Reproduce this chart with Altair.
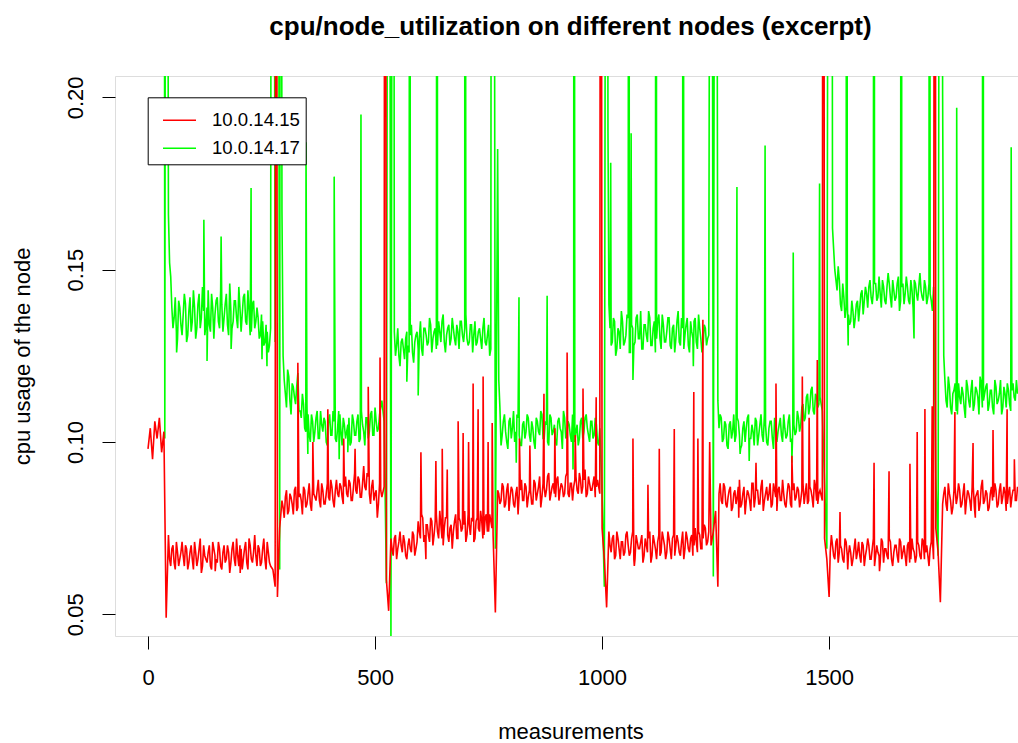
import altair as alt
import pandas as pd

RED_NAME = "10.0.14.15"
GREEN_NAME = "10.0.14.17"

# measurement index of the regular samples (every 5th measurement)
x_base = list(range(0, 1920, 5))

# ---- node 10.0.14.15 (red), segment by segment ----
red_s1 = [0.098, 0.104, 0.095, 0.106, 0.101, 0.107, 0.097, 0.103, 0.049]  # 0-40
red_s2 = [0.073, 0.064, 0.070, 0.063, 0.068, 0.066, 0.071, 0.064, 0.069, 0.065,
          0.070, 0.063, 0.068, 0.066, 0.072, 0.064, 0.067, 0.065, 0.070, 0.063,
          0.069, 0.066, 0.071, 0.064, 0.068, 0.065, 0.070, 0.062, 0.069, 0.066,
          0.072, 0.064, 0.069, 0.066, 0.071, 0.063, 0.070, 0.065, 0.073, 0.064,
          0.069, 0.065, 0.072, 0.063, 0.068, 0.064]  # 45-270
red_s3 = [0.063, 0.058, 0.055, 0.075]  # 275-290
red_s4 = [0.083, 0.078, 0.086, 0.080, 0.084, 0.079, 0.087, 0.081, 0.085, 0.079,
          0.086, 0.082, 0.088, 0.080, 0.085, 0.083, 0.089, 0.081, 0.086, 0.082,
          0.088, 0.083, 0.087, 0.081, 0.089, 0.084, 0.087, 0.082, 0.090, 0.084,
          0.088, 0.083, 0.091, 0.085, 0.089, 0.084, 0.093, 0.086, 0.090, 0.082,
          0.089, 0.085, 0.078, 0.088, 0.084]  # 295-515
red_s5 = [0.087, 0.060, 0.051]  # 520-530
red_s6 = [0.072, 0.067, 0.073, 0.069, 0.074, 0.068, 0.071, 0.066, 0.072, 0.068,
          0.073, 0.069]  # 535-590
red_s7 = [0.077, 0.072, 0.078, 0.073, 0.076, 0.071, 0.077, 0.073, 0.079, 0.072,
          0.076, 0.070, 0.078, 0.073, 0.075, 0.069, 0.077, 0.072, 0.078, 0.074,
          0.076, 0.071, 0.079, 0.073, 0.077, 0.072, 0.078, 0.074, 0.077, 0.073,
          0.079, 0.074, 0.077, 0.073]  # 595-760
red_s8 = [0.0505, 0.086]  # 765-770
red_s9 = [0.082, 0.088, 0.081, 0.086, 0.080, 0.087, 0.082, 0.085, 0.079, 0.086,
          0.083, 0.088, 0.081, 0.086, 0.082, 0.089, 0.083, 0.087, 0.081, 0.088,
          0.084, 0.090, 0.083, 0.087, 0.085, 0.089, 0.083, 0.088, 0.084, 0.090,
          0.085, 0.088, 0.083, 0.089, 0.086, 0.091, 0.085, 0.089, 0.084, 0.090,
          0.086, 0.088, 0.084, 0.089]  # 775-990
red_s10 = [0.085, 0.075, 0.066, 0.052]  # 995-1010
red_s11 = [0.074, 0.068, 0.073, 0.067, 0.072, 0.066, 0.071, 0.068, 0.074, 0.067,
           0.072, 0.066, 0.073, 0.069, 0.071, 0.065, 0.072, 0.068, 0.074, 0.067,
           0.071, 0.066, 0.073, 0.068, 0.072, 0.066, 0.074, 0.069, 0.072, 0.067,
           0.073, 0.068, 0.071, 0.066, 0.074, 0.069, 0.072, 0.067, 0.075, 0.068,
           0.073, 0.069, 0.076, 0.070, 0.074]  # 1015-1235
red_s12 = [0.070, 0.074, 0.080, 0.058]  # 1240-1255
red_s13 = [0.088, 0.082, 0.087, 0.081, 0.086, 0.080, 0.085, 0.082, 0.087, 0.081,
           0.085, 0.079, 0.086, 0.083, 0.088, 0.081, 0.086, 0.082, 0.087, 0.080,
           0.085, 0.083, 0.088, 0.082, 0.086, 0.080, 0.087, 0.083, 0.085, 0.081,
           0.088, 0.082, 0.086, 0.083, 0.087, 0.081, 0.086, 0.082, 0.088, 0.083,
           0.086, 0.081, 0.087, 0.082, 0.086]  # 1260-1480
red_s14 = [0.083, 0.072, 0.066, 0.055]  # 1485-1500
red_s15 = [0.073, 0.067, 0.071, 0.065, 0.070, 0.066, 0.072, 0.067, 0.070, 0.064,
           0.069, 0.066, 0.071, 0.065, 0.070, 0.067, 0.072, 0.066, 0.069, 0.064,
           0.070, 0.067, 0.072, 0.065, 0.069, 0.066, 0.071, 0.064, 0.070, 0.067,
           0.072, 0.066, 0.070, 0.064, 0.071, 0.066, 0.069, 0.065, 0.071, 0.067,
           0.072, 0.066, 0.070, 0.064, 0.071, 0.066]  # 1505-1730
red_s16 = [0.075, 0.068, 0.0535]  # 1735-1745
red_s17 = [0.082, 0.087, 0.080, 0.085, 0.079, 0.086, 0.082, 0.088, 0.081, 0.085,
           0.079, 0.086, 0.083, 0.087, 0.081, 0.085, 0.080, 0.087, 0.082, 0.086,
           0.080, 0.085, 0.083, 0.088, 0.081, 0.086, 0.082, 0.087, 0.080, 0.085,
           0.081, 0.086, 0.083, 0.087]  # 1750-1915

# in-between samples of the noisy plateaus (start measurement, values every 5)
red_mid_start = [47.5, 297.5, 537.5, 772.5, 1017.5, 1257.5, 1502.5, 1752.5]
red_mid_a = [0.066, 0.069, 0.065, 0.071, 0.064, 0.068, 0.067, 0.070, 0.063, 0.068,
             0.066, 0.071, 0.064, 0.069, 0.062, 0.070, 0.066, 0.068, 0.064, 0.071,
             0.067, 0.065, 0.069, 0.063, 0.070, 0.066, 0.068, 0.065, 0.071, 0.064,
             0.067, 0.070, 0.063, 0.069, 0.065, 0.072, 0.066, 0.068, 0.067, 0.070,
             0.064, 0.069, 0.066, 0.071, 0.065]
red_mid_b = [0.081, 0.084, 0.079, 0.085, 0.082, 0.086, 0.080, 0.084, 0.083, 0.087,
             0.081, 0.085, 0.082, 0.087, 0.084, 0.086, 0.083, 0.088, 0.082, 0.085,
             0.084, 0.089, 0.083, 0.086, 0.085, 0.088, 0.084, 0.087, 0.085, 0.089,
             0.083, 0.087, 0.086, 0.090, 0.084, 0.088, 0.087, 0.091, 0.085, 0.087,
             0.083, 0.086, 0.082, 0.086]
red_mid_c = [0.069, 0.072, 0.066, 0.071, 0.070, 0.073, 0.067, 0.070, 0.069, 0.074,
             0.067, 0.071, 0.074, 0.079, 0.071, 0.076, 0.073, 0.078, 0.070, 0.077,
             0.074, 0.080, 0.072, 0.075, 0.078, 0.071, 0.076, 0.074, 0.079, 0.072,
             0.077, 0.075, 0.080, 0.073, 0.076, 0.078, 0.071, 0.077, 0.075, 0.080,
             0.072, 0.078, 0.074, 0.079, 0.075]
red_mid_d = [0.085, 0.083, 0.087, 0.082, 0.088, 0.084, 0.086, 0.081, 0.087, 0.085,
             0.089, 0.083, 0.087, 0.084, 0.086, 0.082, 0.088, 0.085, 0.090, 0.084,
             0.087, 0.086, 0.091, 0.085, 0.088, 0.084, 0.090, 0.086, 0.087, 0.085,
             0.091, 0.084, 0.088, 0.087, 0.090, 0.085, 0.089, 0.087, 0.092, 0.085,
             0.088, 0.086, 0.090, 0.087]
red_mid_e = [0.070, 0.072, 0.066, 0.074, 0.069, 0.071, 0.067, 0.073, 0.070, 0.068,
             0.074, 0.066, 0.071, 0.069, 0.073, 0.067, 0.070, 0.072, 0.065, 0.073,
             0.069, 0.071, 0.067, 0.074, 0.070, 0.068, 0.072, 0.066, 0.073, 0.070,
             0.071, 0.067, 0.074, 0.069, 0.072, 0.068, 0.073, 0.070, 0.071, 0.074,
             0.069, 0.072, 0.075, 0.071]
red_mid_f = [0.085, 0.083, 0.088, 0.082, 0.084, 0.087, 0.081, 0.086, 0.084, 0.089,
             0.082, 0.087, 0.083, 0.085, 0.080, 0.088, 0.084, 0.086, 0.082, 0.089,
             0.083, 0.087, 0.085, 0.081, 0.088, 0.084, 0.086, 0.083, 0.089, 0.082,
             0.085, 0.087, 0.081, 0.088, 0.084, 0.086, 0.083, 0.088, 0.085, 0.082,
             0.087, 0.084, 0.089, 0.083, 0.085]
red_mid_g = [0.068, 0.070, 0.066, 0.072, 0.068, 0.069, 0.065, 0.071, 0.067, 0.068,
             0.066, 0.072, 0.068, 0.067, 0.071, 0.064, 0.069, 0.070, 0.066, 0.072,
             0.067, 0.068, 0.065, 0.071, 0.069, 0.067, 0.072, 0.066, 0.068, 0.070,
             0.065, 0.071, 0.068, 0.067, 0.070, 0.065, 0.072, 0.068, 0.067, 0.070,
             0.066, 0.071, 0.068, 0.067, 0.069, 0.072]
red_mid_h = [0.085, 0.082, 0.088, 0.083, 0.081, 0.087, 0.084, 0.086, 0.082, 0.088,
             0.083, 0.085, 0.080, 0.087, 0.084, 0.086, 0.082, 0.089, 0.083, 0.085,
             0.081, 0.087, 0.084, 0.086, 0.082, 0.088, 0.084, 0.085, 0.082, 0.087,
             0.084, 0.086, 0.083]

# single-measurement spikes and outliers
red_spike_x = [148, 203, 282, 330, 363, 396, 431, 456, 485, 511, 522,
               601, 612, 634, 648, 659, 683, 694, 706, 716, 727, 738, 749, 758,
               818, 841, 872, 896, 923, 941, 958, 987, 997,
               1068, 1071, 1101, 1126, 1159, 1202, 1211, 1222, 1237,
               1301, 1339, 1383, 1418, 1441, 1456, 1474, 1487,
               1524, 1541, 1599, 1611, 1632, 1678, 1694, 1711, 1727, 1733,
               1777, 1817, 1822, 1861, 1892, 1908]
red_spike_y = [0.0625, 0.062, 0.5, 0.123, 0.100, 0.1095, 0.101, 0.098, 0.116, 0.1245, 0.5,
               0.097, 0.066, 0.0945, 0.098, 0.092, 0.106, 0.1026, 0.100, 0.117, 0.1095, 0.119, 0.100, 0.1055,
               0.101, 0.099, 0.114, 0.104, 0.126, 0.102, 0.1155, 0.113, 0.5,
               0.101, 0.064, 0.0876, 0.098, 0.1038, 0.1145, 0.101, 0.1355, 0.100,
               0.078, 0.094, 0.117, 0.096, 0.119, 0.107, 0.1238, 0.5,
               0.0797, 0.063, 0.094, 0.0625, 0.0915, 0.0937, 0.1029, 0.1096, 0.1104, 0.5,
               0.1087, 0.0997, 0.078, 0.1035, 0.1095, 0.095]

# ---- node 10.0.14.17 (green); 0.5 marks values far above the visible range ----
green_s1 = [0.5, 0.5, 0.5, 0.5, 0.5, 0.5, 0.5, 0.5, 0.5]  # 0-40
green_s2 = [0.166, 0.148, 0.133, 0.142, 0.130, 0.139, 0.131, 0.143, 0.129, 0.138,
            0.132, 0.144, 0.130, 0.140, 0.133, 0.145, 0.131, 0.139, 0.134, 0.143,
            0.130, 0.141, 0.135, 0.144, 0.132, 0.140, 0.134, 0.146, 0.133, 0.141,
            0.136, 0.145, 0.132, 0.142, 0.135, 0.144, 0.131, 0.140, 0.133, 0.139,
            0.130, 0.137, 0.128, 0.134, 0.126, 0.133]  # 45-270
green_s3 = [0.5, 0.129, 0.5, 0.063, 0.167]  # 275-295
green_s4 = [0.118, 0.110, 0.119, 0.108, 0.116, 0.111, 0.120, 0.109, 0.114, 0.104,
            0.111, 0.102, 0.108, 0.100, 0.107, 0.101, 0.109, 0.103, 0.106, 0.099,
            0.108, 0.102, 0.106, 0.100, 0.109, 0.103, 0.107, 0.101, 0.105, 0.099,
            0.108, 0.102, 0.106, 0.100, 0.109, 0.103, 0.107, 0.101, 0.108, 0.102,
            0.110, 0.103, 0.108, 0.112]  # 300-515
green_s5 = [0.106, 0.059, 0.5, 0.042, 0.5]  # 520-540
green_s6 = [0.125, 0.133, 0.122, 0.130, 0.124, 0.132, 0.126, 0.134, 0.123, 0.131,
            0.127, 0.135, 0.125, 0.133, 0.128, 0.136, 0.126, 0.132, 0.127, 0.135,
            0.129, 0.137, 0.126, 0.133, 0.128, 0.136, 0.130, 0.134, 0.127, 0.135,
            0.129, 0.137, 0.128, 0.134, 0.126, 0.135, 0.129, 0.133, 0.127, 0.136,
            0.128, 0.134, 0.127]  # 545-755
green_s7 = [0.5, 0.069, 0.185]  # 760-770
green_s8 = [0.110, 0.102, 0.108, 0.100, 0.106, 0.101, 0.109, 0.103, 0.107, 0.099,
            0.105, 0.101, 0.108, 0.102, 0.106, 0.100, 0.107, 0.103, 0.109, 0.101,
            0.106, 0.100, 0.108, 0.102, 0.105, 0.099, 0.107, 0.103, 0.109, 0.101,
            0.106, 0.102, 0.108, 0.100, 0.105, 0.101, 0.107, 0.103, 0.108, 0.102,
            0.106, 0.101, 0.107, 0.100, 0.104]  # 775-995
green_s9 = [0.085, 0.058, 0.5, 0.140]  # 1000-1015
green_s10 = [0.128, 0.136, 0.125, 0.133, 0.127, 0.135, 0.129, 0.137, 0.126, 0.134,
             0.128, 0.136, 0.130, 0.138, 0.127, 0.134, 0.129, 0.136, 0.128, 0.135,
             0.130, 0.137, 0.127, 0.134, 0.129, 0.136, 0.128, 0.133, 0.126, 0.135,
             0.129, 0.136, 0.127, 0.134, 0.128, 0.135, 0.130, 0.136, 0.127, 0.133,
             0.126, 0.134, 0.128, 0.131]  # 1020-1235
green_s11 = [0.5, 0.061, 0.5, 0.112]  # 1240-1255
green_s12 = [0.108, 0.100, 0.106, 0.099, 0.105, 0.101, 0.108, 0.102, 0.106, 0.098,
             0.104, 0.100, 0.107, 0.101, 0.105, 0.099, 0.106, 0.102, 0.108, 0.100,
             0.105, 0.099, 0.106, 0.101, 0.107, 0.100, 0.105, 0.102, 0.108, 0.101,
             0.106, 0.100, 0.104, 0.102, 0.109, 0.103, 0.110, 0.106, 0.113, 0.108,
             0.115, 0.109, 0.114, 0.110, 0.113]  # 1260-1480
green_s13 = [0.109, 0.088, 0.069, 0.5, 0.5]  # 1485-1505
green_s14 = [0.156, 0.147, 0.151, 0.140, 0.146, 0.136, 0.143, 0.134, 0.141, 0.133,
             0.140, 0.135, 0.143, 0.137, 0.145, 0.139, 0.147, 0.140, 0.146, 0.141,
             0.148, 0.139, 0.145, 0.140, 0.149, 0.142, 0.147, 0.141, 0.146, 0.138,
             0.145, 0.140, 0.148, 0.141, 0.147, 0.139, 0.146, 0.141, 0.149, 0.142,
             0.147, 0.140, 0.146, 0.141, 0.145]  # 1510-1730
green_s15 = [0.090, 0.067, 0.5, 0.2006]  # 1735-1750
green_s16 = [0.118, 0.110, 0.116, 0.108, 0.115, 0.109, 0.117, 0.111, 0.114, 0.107,
             0.116, 0.110, 0.118, 0.111, 0.115, 0.108, 0.117, 0.112, 0.116, 0.109,
             0.115, 0.110, 0.118, 0.111, 0.114, 0.108, 0.116, 0.110, 0.115, 0.109,
             0.117, 0.112, 0.114]  # 1755-1915

green_mid_start = [47.5, 297.5, 542.5, 772.5, 1017.5, 1257.5, 1507.5, 1752.5]
green_mid_a = [0.152, 0.139, 0.136, 0.132, 0.141, 0.134, 0.137, 0.140, 0.131, 0.142,
               0.135, 0.139, 0.133, 0.143, 0.136, 0.138, 0.134, 0.144, 0.132, 0.139,
               0.137, 0.142, 0.133, 0.140, 0.136, 0.143, 0.131, 0.138, 0.135, 0.141,
               0.133, 0.139, 0.137, 0.143, 0.134, 0.138, 0.132, 0.141, 0.135, 0.136,
               0.131, 0.135, 0.129, 0.132, 0.128]
green_mid_b = [0.125, 0.114, 0.121, 0.112, 0.117, 0.113, 0.116, 0.109, 0.107, 0.111,
               0.103, 0.108, 0.100, 0.106, 0.103, 0.109, 0.101, 0.105, 0.107, 0.100,
               0.106, 0.102, 0.109, 0.101, 0.104, 0.108, 0.099, 0.105, 0.103, 0.107,
               0.100, 0.106, 0.102, 0.108, 0.101, 0.105, 0.099, 0.107, 0.103, 0.109,
               0.102, 0.106, 0.104, 0.110]
green_mid_c = [0.132, 0.128, 0.125, 0.129, 0.127, 0.130, 0.128, 0.131, 0.126, 0.129,
               0.132, 0.130, 0.127, 0.133, 0.131, 0.129, 0.134, 0.130, 0.133, 0.128,
               0.132, 0.135, 0.129, 0.131, 0.134, 0.130, 0.133, 0.128, 0.132, 0.135,
               0.131, 0.133, 0.130, 0.129, 0.134, 0.131, 0.128, 0.132, 0.130, 0.133,
               0.129, 0.131, 0.125]
green_mid_d = [0.118, 0.099, 0.106, 0.103, 0.098, 0.107, 0.104, 0.100, 0.108, 0.102,
               0.099, 0.106, 0.103, 0.107, 0.100, 0.104, 0.098, 0.106, 0.102, 0.108,
               0.101, 0.105, 0.099, 0.107, 0.103, 0.100, 0.106, 0.104, 0.098, 0.107,
               0.102, 0.105, 0.100, 0.108, 0.103, 0.099, 0.106, 0.101, 0.107, 0.104,
               0.100, 0.106, 0.102, 0.105, 0.099]
green_mid_e = [0.133, 0.129, 0.135, 0.127, 0.132, 0.138, 0.128, 0.131, 0.136, 0.126,
               0.133, 0.129, 0.137, 0.130, 0.127, 0.134, 0.131, 0.138, 0.128, 0.133,
               0.126, 0.135, 0.130, 0.137, 0.129, 0.132, 0.136, 0.127, 0.134, 0.130,
               0.138, 0.128, 0.133, 0.131, 0.136, 0.126, 0.132, 0.135, 0.129, 0.137,
               0.130, 0.128, 0.133, 0.130]
green_mid_f = [0.104, 0.107, 0.101, 0.105, 0.098, 0.106, 0.103, 0.100, 0.107, 0.102,
               0.099, 0.106, 0.104, 0.108, 0.101, 0.103, 0.107, 0.099, 0.105, 0.102,
               0.108, 0.100, 0.104, 0.106, 0.098, 0.105, 0.103, 0.107, 0.100, 0.104,
               0.102, 0.108, 0.101, 0.105, 0.103, 0.107, 0.105, 0.111, 0.107, 0.114,
               0.110, 0.116, 0.108, 0.113, 0.111]
green_mid_g = [0.162, 0.150, 0.144, 0.147, 0.138, 0.142, 0.139, 0.137, 0.135, 0.138,
               0.136, 0.141, 0.139, 0.144, 0.141, 0.143, 0.145, 0.142, 0.144, 0.146,
               0.142, 0.143, 0.147, 0.141, 0.145, 0.146, 0.139, 0.144, 0.142, 0.148,
               0.141, 0.146, 0.143, 0.145, 0.140, 0.144, 0.147, 0.143, 0.145, 0.144,
               0.141, 0.145, 0.142, 0.143, 0.138]
green_mid_h = [0.125, 0.112, 0.119, 0.110, 0.114, 0.117, 0.108, 0.113, 0.116, 0.110,
               0.118, 0.112, 0.115, 0.109, 0.116, 0.113, 0.119, 0.110, 0.114, 0.117,
               0.111, 0.115, 0.108, 0.116, 0.112, 0.118, 0.110, 0.114, 0.117, 0.111,
               0.115, 0.113, 0.118]

green_spike_x = [37, 63, 123, 130, 161, 183, 227, 251, 262, 273, 292,
                 348, 352, 410, 421, 440, 469,
                 570, 577, 595, 637, 698, 757,
                 811, 817, 879, 936, 938,
                 1013, 1019, 1059, 1064, 1068, 1119, 1178, 1201,
                 1297, 1304, 1324, 1359, 1418, 1421, 1479,
                 1539, 1542, 1599, 1659, 1687, 1721,
                 1781, 1839, 1901]
green_spike_y = [0.101, 0.126, 0.1645, 0.1235, 0.1596, 0.127, 0.1737, 0.124, 0.122, 0.5, 0.5,
                 0.187, 0.0965, 0.177, 0.095, 0.097, 0.195,
                 0.1175, 0.5, 0.1135, 0.5, 0.5, 0.5,
                 0.094, 0.142, 0.1424, 0.092, 0.5,
                 0.19, 0.181, 0.5, 0.1896, 0.118, 0.5, 0.5, 0.122,
                 0.174, 0.0965, 0.0945, 0.186, 0.094, 0.155, 0.175,
                 0.5, 0.128, 0.5, 0.5, 0.130, 0.5,
                 0.197, 0.5, 0.1855]

red_base = (red_s1 + red_s2 + red_s3 + red_s4 + red_s5 + red_s6 + red_s7 + red_s8
            + red_s9 + red_s10 + red_s11 + red_s12 + red_s13 + red_s14 + red_s15
            + red_s16 + red_s17)
green_base = (green_s1 + green_s2 + green_s3 + green_s4 + green_s5 + green_s6
              + green_s7 + green_s8 + green_s9 + green_s10 + green_s11 + green_s12
              + green_s13 + green_s14 + green_s15 + green_s16)
red_mids = [red_mid_a, red_mid_b, red_mid_c, red_mid_d, red_mid_e, red_mid_f,
            red_mid_g, red_mid_h]
green_mids = [green_mid_a, green_mid_b, green_mid_c, green_mid_d, green_mid_e,
              green_mid_f, green_mid_g, green_mid_h]
assert len(red_base) == len(x_base), len(red_base)
assert len(green_base) == len(x_base), len(green_base)
assert len(red_spike_x) == len(red_spike_y)
assert len(green_spike_x) == len(green_spike_y)

rows = []


def add(xs, ys, name):
    for xv, yv in zip(xs, ys):
        rows.append({"m": xv, "cpu": yv, "node": name})


add(x_base, red_base, RED_NAME)
add(red_spike_x, red_spike_y, RED_NAME)
add(x_base, green_base, GREEN_NAME)
add(green_spike_x, green_spike_y, GREEN_NAME)
for start, vals in zip(red_mid_start, red_mids):
    add([start + 5 * k for k in range(len(vals))], vals, RED_NAME)
for start, vals in zip(green_mid_start, green_mids):
    add([start + 5 * k for k in range(len(vals))], vals, GREEN_NAME)
df = pd.DataFrame(rows).sort_values(["node", "m"])

FONT = "Liberation Sans"

x_enc = alt.X(
    "m:Q",
    scale=alt.Scale(domain=[-72.7, 1916], nice=False, zero=False),
    axis=alt.Axis(
        values=[0, 500, 1000, 1500], format="d", title="measurements",
        grid=False, domain=False, tickSize=13, tickColor="black", tickWidth=1,
        labelFontSize=22, labelPadding=35, labelBaseline="alphabetic", labelFlush=False,
        titleFontSize=22, titleFontWeight="normal", titleX=455.5, titleY=102,
        titleBaseline="alphabetic", titleAlign="center",
    ),
)
y_enc = alt.Y(
    "cpu:Q",
    scale=alt.Scale(domain=[0.0437, 0.2062], nice=False, zero=False),
    axis=alt.Axis(
        values=[0.05, 0.10, 0.15, 0.20], format=".2f", title="cpu usage of the node",
        grid=False, domain=False, tickSize=13, tickColor="black", tickWidth=1,
        labelFontSize=22, labelAngle=270, labelAlign="center", labelBaseline="alphabetic",
        labelPadding=19.3, titleFontSize=22, titleFontWeight="normal", titleAngle=270,
        titleX=-86, titleY=280, titleBaseline="alphabetic", titleAlign="center",
    ),
)
legend = alt.Legend(
    orient="none", legendX=32.7, legendY=21.3, title=None,
    symbolType="stroke", symbolSize=1089, symbolStrokeWidth=1.5,
    labelFontSize=18.6, labelFont=FONT, labelColor="black",
    padding=5.5, symbolOffset=8.8, labelOffset=15, rowPadding=-12,
    strokeColor="black", fillColor="white",
)
color_enc = alt.Color(
    "node:N",
    scale=alt.Scale(domain=[RED_NAME, GREEN_NAME], range=["#FF0000", "#00FF00"]),
    legend=legend,
)

base = alt.Chart(df)
green_line = base.transform_filter(alt.datum.node == GREEN_NAME).mark_line(
    clip=True, strokeWidth=1.6).encode(x=x_enc, y=y_enc, color=color_enc)
red_line = base.transform_filter(alt.datum.node == RED_NAME).mark_line(
    clip=True, strokeWidth=1.6).encode(x=x_enc, y=y_enc, color=color_enc)

chart = alt.layer(green_line, red_line).properties(
    width=903, height=560,
    autosize=alt.AutoSizeParams(type="none"),
    padding={"left": 115, "top": 76, "right": 0, "bottom": 107},
    title=alt.TitleParams(
        text="cpu/node_utilization on different nodes (excerpt)",
        fontSize=26, fontWeight="bold", font=FONT, anchor="middle", frame="group",
        baseline="alphabetic", offset=15, dx=4, color="black",
    ),
).configure_view(
    stroke="black", strokeWidth=1.3
).configure_axis(
    labelFont=FONT, titleFont=FONT, labelColor="black", titleColor="black",
).configure(background="white")

chart.save("out.html", embed_options={"renderer": "svg", "actions": False})
